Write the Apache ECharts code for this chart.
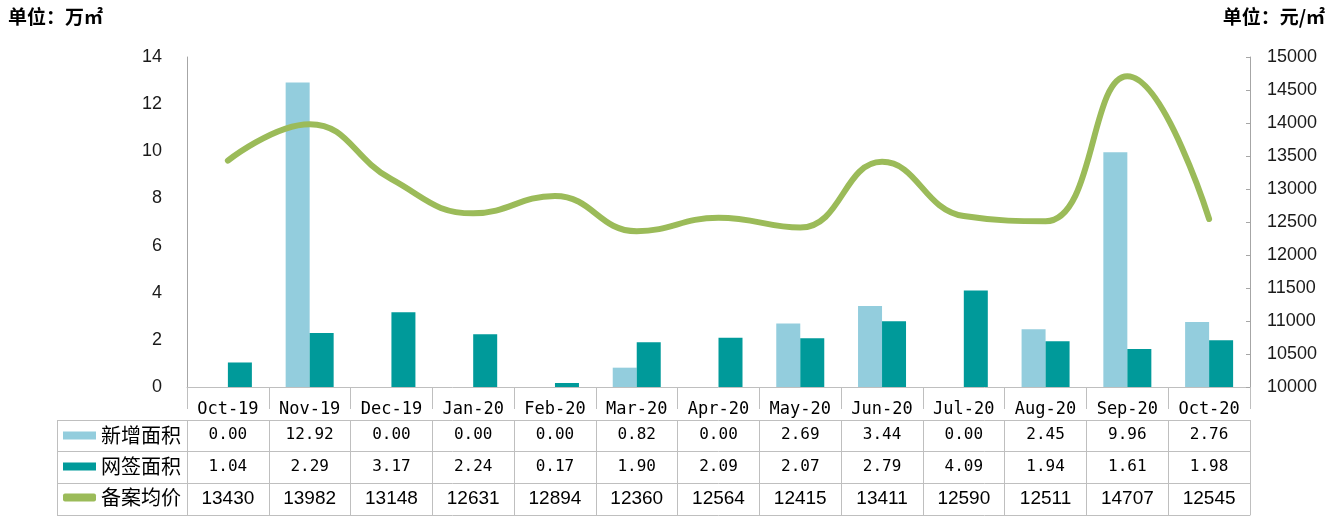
<!DOCTYPE html>
<html>
<head>
<meta charset="utf-8">
<script src="https://cdn.jsdelivr.net/npm/echarts@6/dist/echarts.min.js"></script>
<style>
  html, body { margin: 0; padding: 0; background: #fff; }
  #main { width: 1335px; height: 516px; }
</style>
</head>
<body>
<div id="main"></div>
<script>
const months = ['Oct-19', 'Nov-19', 'Dec-19', 'Jan-20', 'Feb-20', 'Mar-20', 'Apr-20',
  'May-20', 'Jun-20', 'Jul-20', 'Aug-20', 'Sep-20', 'Oct-20'];
const newArea = [0.00, 12.92, 0.00, 0.00, 0.00, 0.82, 0.00, 2.69, 3.44, 0.00, 2.45, 9.96, 2.76];
const signedArea = [1.04, 2.29, 3.17, 2.24, 0.17, 1.90, 2.09, 2.07, 2.79, 4.09, 1.94, 1.61, 1.98];
const avgPrice = [13430, 13982, 13148, 12631, 12894, 12360, 12564, 12415, 13411, 12590, 12511, 14707, 12545];
const leftTicks = { min: 0, max: 14, interval: 2 };
const rightTicks = { min: 10000, max: 15000, interval: 500 };

const lineGray = '#bfbfbf';
const monoFont = '"DejaVu Sans Mono", monospace';

const chart = echarts.init(document.getElementById('main'));

// one x axis per table row, stacked under the plot; ticks draw the cell walls
function tableAxis(offset, rowH, fmt, opts) {
  opts = opts || {};
  return {
    type: 'category',
    data: months,
    position: 'bottom',
    offset: offset,
    boundaryGap: true,
    axisLine: { show: true, lineStyle: { color: lineGray, width: 1 } },
    axisTick: rowH
      ? { show: true, alignWithLabel: false, interval: 0, length: rowH, lineStyle: { color: lineGray } }
      : { show: false },
    axisLabel: {
      show: !!fmt,
      interval: 0,
      margin: opts.margin || 6,
      color: '#000',
      fontFamily: opts.font || monoFont,
      fontSize: opts.size || 16,
      formatter: fmt ? function (v, i) { return fmt(i); } : ''
    },
    splitLine: { show: false }
  };
}

const option = {
  backgroundColor: '#fff',
  animation: false,
  title: [
    { text: '单位：万㎡', left: 8, top: 7, padding: 0,
      textStyle: { fontSize: 19, fontWeight: 'bold', color: '#000', fontFamily: '"Noto Sans CJK SC"' } },
    { text: '单位：元/㎡', right: 10, top: 7, padding: 0,
      textStyle: { fontSize: 19, fontWeight: 'bold', color: '#000', fontFamily: '"Noto Sans CJK SC"' } }
  ],
  legend: {
    orient: 'vertical',
    left: 63,
    top: 420,
    padding: 0,
    itemGap: 0,
    itemWidth: 33,
    itemHeight: 8,
    textStyle: { fontSize: 20, lineHeight: 31, color: '#000', fontFamily: '"Noto Sans CJK SC"' },
    data: [
      { name: '新增面积', icon: 'rect' },
      { name: '网签面积', icon: 'rect' },
      { name: '备案均价', icon: 'roundRect', itemStyle: { color: '#9bbb59' } }
    ]
  },
  grid: { left: 187, right: 85, top: 57, bottom: 129 },
  xAxis: [
    tableAxis(11, 22, i => months[i], { margin: 3, size: 17 }),
    tableAxis(33, 31, i => newArea[i].toFixed(2), { margin: 7 }),
    tableAxis(64, 32, i => signedArea[i].toFixed(2), { margin: 8 }),
    tableAxis(96, 32, i => String(avgPrice[i]), {
      margin: 6, size: 19, font: '"Liberation Sans Narrow", "Liberation Sans", sans-serif'
    }),
    tableAxis(128, 0, null)
  ],
  yAxis: [
    {
      type: 'value',
      min: leftTicks.min, max: leftTicks.max, interval: leftTicks.interval,
      axisLine: { show: true, lineStyle: { color: '#a6a6a6' } },
      axisTick: { show: false },
      splitLine: { show: false },
      axisLabel: { margin: 25, color: '#1a1a1a', fontSize: 18, fontFamily: '"Liberation Sans", Arial' }
    },
    {
      type: 'value',
      position: 'right',
      min: rightTicks.min, max: rightTicks.max, interval: rightTicks.interval,
      axisLine: { show: true, lineStyle: { color: '#a6a6a6' } },
      axisTick: { show: true, inside: true, length: 4, lineStyle: { color: '#a6a6a6' } },
      splitLine: { show: false },
      axisLabel: {
        margin: 17, color: '#1a1a1a', fontSize: 18, fontFamily: '"Liberation Sans", Arial',
        formatter: v => String(v)
      }
    }
  ],
  series: [
    {
      name: '新增面积',
      type: 'bar',
      xAxisIndex: 0,
      yAxisIndex: 0,
      barWidth: 24,
      barGap: '0%',
      itemStyle: { color: '#93cddd' },
      data: newArea
    },
    {
      name: '网签面积',
      type: 'bar',
      xAxisIndex: 0,
      yAxisIndex: 0,
      barWidth: 24,
      barGap: '0%',
      itemStyle: { color: '#009a9a' },
      data: signedArea
    },
    {
      name: '备案均价',
      type: 'line',
      xAxisIndex: 0,
      yAxisIndex: 1,
      smooth: 0.45,
      symbol: 'none',
      z: 5,
      lineStyle: { color: '#9bbb59', width: 6, cap: 'round', join: 'round' },
      itemStyle: { color: '#9bbb59' },
      data: avgPrice
    }
  ],
  graphic: [
    // left column of the data table (legend cells)
    { type: 'line', shape: { x1: 57, y1: 420.5, x2: 187, y2: 420.5 }, style: { stroke: lineGray, lineWidth: 1 } },
    { type: 'line', shape: { x1: 57, y1: 451.5, x2: 187, y2: 451.5 }, style: { stroke: lineGray, lineWidth: 1 } },
    { type: 'line', shape: { x1: 57, y1: 483.5, x2: 187, y2: 483.5 }, style: { stroke: lineGray, lineWidth: 1 } },
    { type: 'line', shape: { x1: 57, y1: 515.5, x2: 187, y2: 515.5 }, style: { stroke: lineGray, lineWidth: 1 } },
    { type: 'line', shape: { x1: 57.5, y1: 420, x2: 57.5, y2: 516 }, style: { stroke: lineGray, lineWidth: 1 } }
  ]
};

chart.setOption(option);
</script>
</body>
</html>
